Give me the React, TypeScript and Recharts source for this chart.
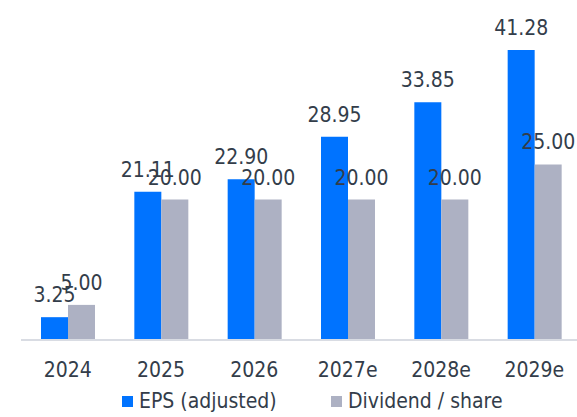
import React from "react";
import { BarChart, Bar, XAxis, YAxis, Legend, LabelList } from "recharts";

const years = ["2024", "2025", "2026", "2027e", "2028e", "2029e"];
const eps = [3.25, 21.11, 22.9, 28.95, 33.85, 41.28];
const dividend = [5.0, 20.0, 20.0, 20.0, 20.0, 25.0];
const seriesOrder = ["eps", "dividend"];

const data = years.map((y, i) => ({ year: y, eps: eps[i], dividend: dividend[i] }));

const FONT = "'DejaVu Sans Condensed', 'DejaVu Sans', sans-serif";
const TEXT = "#333d4a";
const BLUE = "#0073ff";
const GRAY = "#adb1c3";

const fmt = (v: any) => Number(v).toFixed(2);

const LegendContent = (props: any) => {
  const payload = [...(props.payload || [])].sort(
    (a: any, b: any) => seriesOrder.indexOf(a.dataKey) - seriesOrder.indexOf(b.dataKey)
  );
  return (
    <div style={{ display: "flex", paddingLeft: 122, height: 32, alignItems: "center", fontFamily: FONT, fontSize: 21, color: TEXT }}>
      {payload.map((p: any, i: number) => (
        <div key={i} style={{ display: "flex", alignItems: "center", width: i === 0 ? 209 : "auto" }}>
          <span style={{ display: "inline-block", width: 11, height: 11, background: p.color, marginRight: 6 }} />
          <span>{p.value}</span>
        </div>
      ))}
    </div>
  );
};

export default function App() {
  return (
    <div style={{ position: "fixed", left: 0, top: 0, width: 577, height: 417, overflow: "hidden", background: "#fff" }}>
      <BarChart
        width={600}
        height={417}
        data={data}
        margin={{ top: 24, right: 19, left: 21, bottom: 0 }}
        barGap={0}
        barSize={27}
      >
        <XAxis
          dataKey="year"
          axisLine={{ stroke: "#d9dce3", strokeWidth: 2 }}
          tickLine={false}
          tickMargin={16}
          height={45}
          tick={{ fill: TEXT, fontSize: 21, fontFamily: FONT }}
          interval={0}
        />
        <YAxis hide domain={[0, 45]} />
        <Legend verticalAlign="bottom" height={32} wrapperStyle={{ left: 0, width: 577 }} content={<LegendContent />} />
        <Bar dataKey="eps" name="EPS (adjusted)" fill={BLUE} isAnimationActive={false}>
          <LabelList dataKey="eps" position="top" offset={15} formatter={fmt} fill={TEXT} fontSize={21} fontFamily={FONT} />
        </Bar>
        <Bar dataKey="dividend" name="Dividend / share" fill={GRAY} isAnimationActive={false}>
          <LabelList dataKey="dividend" position="top" offset={15} formatter={fmt} fill={TEXT} fontSize={21} fontFamily={FONT} />
        </Bar>
      </BarChart>
    </div>
  );
}
